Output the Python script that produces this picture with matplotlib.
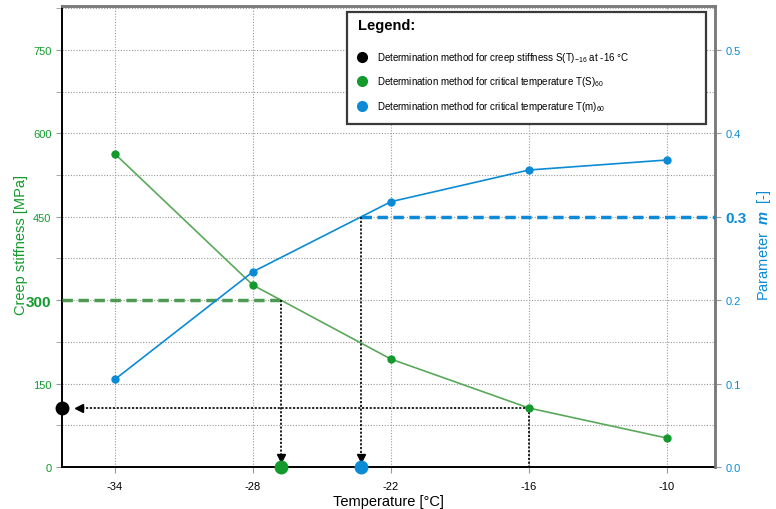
import matplotlib
matplotlib.use('Agg')
import matplotlib.pyplot as plt
from matplotlib.patches import Rectangle

# font setup
plt.rcParams['font.family'] = ['Liberation Sans', 'DejaVu Sans']
plt.rcParams['axes.unicode_minus'] = False
plt.rcParams['mathtext.fontset'] = 'custom'
plt.rcParams['mathtext.rm'] = 'Liberation Sans'
plt.rcParams['mathtext.it'] = 'Liberation Sans:italic'
plt.rcParams['mathtext.bf'] = 'Liberation Sans:italic:bold'

# data
temps = [-34, -28, -22, -16, -10]
stiffness = [563, 327, 194, 106, 52]          # MPa
m_values = [0.105, 0.234, 0.318, 0.356, 0.368]

S_limit = 300          # MPa criterion
m_limit = 0.3          # m criterion
T_eval = -16           # temperature for S(T)-16
S_at_eval = 106
T_S60 = -26.8          # critical temperature from stiffness
T_m60 = -23.3          # critical temperature from m

x_ticks = [-34, -28, -22, -16, -10]
s_ticks = [0, 150, 300, 450, 600, 750]
m_ticks = [0.0, 0.1, 0.2, 0.3, 0.4, 0.5]

legend_labels = [r'Determination method for creep stiffness S(T)$_{-16}$ at -16 °C',
                 r'Determination method for critical temperature T(S)$_{60}$',
                 r'Determination method for critical temperature T(m)$_{60}$']

GREEN = '#129a2c'
GREEN_LINE = '#5aa85a'
GREEN_DASH = '#4e9a52'
BLUE = '#0b8bd6'
GRID = '#9a9a9a'

xmin, xmax = -36.3, -7.91
smax = 829
ratio = 1500.0  # S / m scale ratio

fig = plt.figure(figsize=(7.76, 5.10), dpi=100)
ax = fig.add_axes([0.0799, 0.0824, 0.8415, 0.904])
ax2 = ax.twinx()

ax.set_xlim(xmin, xmax)
ax.set_ylim(0, smax)
ax2.set_ylim(0, smax / ratio)

# grid
ax.set_xticks(x_ticks)
ax.set_yticks(s_ticks)
ax.set_yticks([v + 75 for v in s_ticks], minor=True)
ax.grid(True, which='both', color=GRID, linestyle=(0, (1, 1.5)), linewidth=0.8)
ax.set_axisbelow(True)
ax2.set_yticks(m_ticks)

# curves
ax.plot(temps, stiffness, color=GREEN_LINE, lw=1.2, zorder=3)
ax.plot(temps, stiffness, 'o', color=GREEN, ms=5, zorder=4)
ax2.plot(temps, m_values, color=BLUE, lw=1.2, zorder=3)
ax2.plot(temps, m_values, 'o', color=BLUE, ms=5, zorder=4)

dot = (0, (1.3, 1))
# stiffness criterion
ax.plot([xmin, T_S60], [S_limit, S_limit], color=GREEN_DASH, lw=2.5,
        linestyle=(0, (3, 1.6)), zorder=3, clip_on=False)
ax.plot([T_S60, T_S60], [S_limit, 16], color='black', lw=1.2, linestyle=dot, zorder=3)
ax.plot(T_S60, 16, marker='v', color='black', ms=6, zorder=5)
ax.plot(T_S60, 0, 'o', color=GREEN, ms=9, zorder=6, clip_on=False)

# m criterion
ax2.plot([T_m60, xmax], [m_limit, m_limit], color=BLUE, lw=2.5,
         linestyle=(0, (3, 1.6)), zorder=3, clip_on=False)
ax2.plot([T_m60, T_m60], [m_limit, 16 / ratio], color='black', lw=1.2, linestyle=dot, zorder=3)
ax2.plot(T_m60, 16 / ratio, marker='v', color='black', ms=6, zorder=5)
ax2.plot(T_m60, 0, 'o', color=BLUE, ms=9, zorder=6, clip_on=False)

# stiffness at -16
ax.plot([T_eval, T_eval], [S_at_eval, 0], color='black', lw=1.2, linestyle=dot, zorder=3)
ax.plot([T_eval, xmin + 0.75], [S_at_eval, S_at_eval], color='black', lw=1.2, linestyle=dot, zorder=3)
ax.plot(xmin + 0.75, S_at_eval, marker='<', color='black', ms=6, zorder=5)
ax.plot(xmin, S_at_eval, 'o', color='black', ms=9, zorder=6, clip_on=False)

# spines
for side in ['top', 'right']:
    ax.spines[side].set_color('#7a7a7a')
    ax.spines[side].set_linewidth(1.8)
    ax2.spines[side].set_color('#7a7a7a')
    ax2.spines[side].set_linewidth(1.8)
ax.spines['left'].set_linewidth(1.4)
ax.spines['bottom'].set_linewidth(1.4)
ax2.spines['left'].set_visible(False)
ax2.spines['bottom'].set_visible(False)

# tick labels
ax.tick_params(axis='x', colors='black', labelsize=8, length=4, color=GRID, pad=6)
ax.tick_params(axis='y', which='both', labelcolor=GREEN, labelsize=8, length=4, color=GRID)
ax2.tick_params(axis='y', labelcolor=BLUE, labelsize=8, length=4, color=GRID)
ax.set_yticklabels([str(v) for v in s_ticks])
ax2.set_yticklabels(['%.1f' % v for v in m_ticks])
for lab, v in zip(ax.get_yticklabels(), s_ticks):
    if v == S_limit:
        lab.set_fontsize(11)
        lab.set_fontweight('bold')
for lab, v in zip(ax2.get_yticklabels(), m_ticks):
    if abs(v - m_limit) < 1e-9:
        lab.set_fontsize(11)
        lab.set_fontweight('bold')

ax.set_xlabel('Temperature [°C]', fontsize=10.5, labelpad=2)
ax.set_ylabel('Creep stiffness [MPa]', fontsize=10.5, color=GREEN)
ax.yaxis.set_label_coords(-0.052, 0.484)
ax2.set_ylabel(r'Parameter  $\mathbf{m}$  [-]', fontsize=10.5, color=BLUE)
ax2.yaxis.set_label_coords(1.062, 0.484)

# legend box drawn by hand
ax2.add_patch(Rectangle((0.4365, 0.744), 0.5495, 0.243, transform=ax2.transAxes,
                        facecolor='white', edgecolor='#3a3a3a', lw=1.6, zorder=10))
ax2.text(0.453, 0.958, 'Legend:', transform=ax2.transAxes, fontsize=10.5,
         fontweight='bold', va='center', ha='left', zorder=11)
legend_colors = ['black', GREEN, BLUE]
legend_y = [0.889, 0.837, 0.783]
for lab, col, yy in zip(legend_labels, legend_colors, legend_y):
    ax2.plot(0.459, yy, 'o', color=col, ms=7, transform=ax2.transAxes, zorder=11)
    ax2.text(0.482, yy, lab, transform=ax2.transAxes, fontsize=7, va='center',
             ha='left', zorder=11)

fig.savefig('out.png', dpi=100)
